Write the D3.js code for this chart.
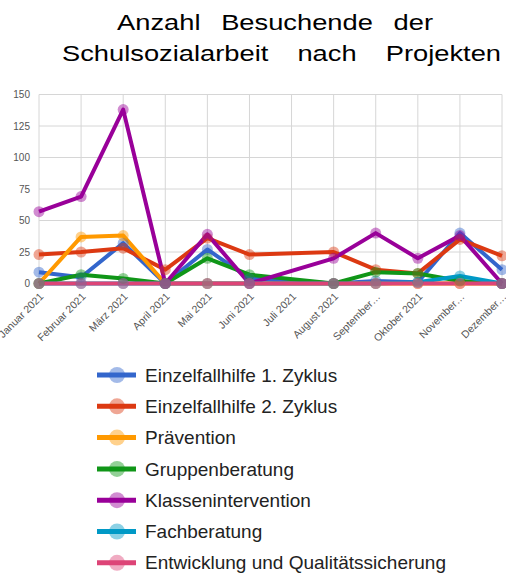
<!DOCTYPE html>
<html>
<head>
<meta charset="utf-8">
<script src="https://cdn.jsdelivr.net/npm/d3@7"></script>
<style>
  body { margin: 0; background: #fff; }
  svg { display: block; font-family: "Liberation Sans", Arial, sans-serif; }
</style>
</head>
<body>
<svg id="chart" width="506" height="574"></svg>
<script>
// Daten
const months = ["Januar 2021", "Februar 2021", "März 2021", "April 2021", "Mai 2021", "Juni 2021",
                "Juli 2021", "August 2021", "September 2021", "Oktober 2021", "November 2021", "Dezember 2021"];
const monthLabels = ["Januar 2021", "Februar 2021", "März 2021", "April 2021", "Mai 2021", "Juni 2021",
                     "Juli 2021", "August 2021", "September…", "Oktober 2021", "November…", "Dezember…"];
const seriesNames = ["Einzelfallhilfe 1. Zyklus", "Einzelfallhilfe 2. Zyklus", "Prävention", "Gruppenberatung",
                     "Klassenintervention", "Fachberatung", "Entwicklung und Qualitätssicherung"];
const colors = ["#3366cc", "#dc3912", "#ff9900", "#109618", "#990099", "#0099c6", "#dd4477"];
// Juli 2021 ohne Werte (null)
const einzel1 = [9, 5, 32, 0, 27, 4, null, 0, 2, 1, 40, 11];
const einzel2 = [23, 25, 28, 11, 36, 23, null, 25, 11, 8, 35, 22];
const praevention = [0, 37, 38, 0, 0, 0, null, 0, 0, 0, 0, 0];
const gruppe = [0, 7, 4, 0, 20, 7, null, 0, 9, 8, 2, 0];
const klasse = [57, 69, 138, 0, 39, 0, null, 20, 40, 20, 38, 0];
const fach = [0, 0, 0, 0, 0, 0, null, 0, 0, 1, 6, 0];
const entwicklung = [0, 0, 0, 0, 0, 0, null, 0, 0, 0, 0, 0];
const yTicks = [0, 25, 50, 75, 100, 125, 150];

const allSeries = [einzel1, einzel2, praevention, gruppe, klasse, fach, entwicklung];

const svg = d3.select("#chart");

// Titel (Blocksatz, breit gezogen wie im Original)
const titleLines = [
    { text: "Anzahl Besuchende der", x0: 117, x1: 433, y: 30 },
    { text: "Schulsozialarbeit nach Projekten", x0: 62, x1: 501, y: 61 }
];
const stretch = 1.27;
titleLines.forEach(l => {
    const g = svg.append("g")
        .attr("transform", `translate(${l.x0},${l.y}) scale(${stretch},1)`);
    const t = g.append("text")
        .attr("x", 0)
        .attr("y", 0)
        .attr("font-size", 21.5)
        .attr("fill", "#000")
        .text(l.text);
    const natural = t.node().getComputedTextLength();
    const gaps = l.text.split(" ").length - 1;
    t.attr("word-spacing", ((l.x1 - l.x0) / stretch - natural) / gaps);
});

const x = d3.scalePoint().domain(months).range([39, 502]);
const y = d3.scaleLinear().domain([0, 150]).range([283.5, 94.5]);

// Gitter
svg.append("g")
    .selectAll("line.h")
    .data(yTicks)
    .enter()
    .append("line")
    .attr("x1", 39).attr("x2", 502)
    .attr("y1", d => y(d)).attr("y2", d => y(d))
    .attr("stroke", "#d6d6d6");

svg.append("g")
    .selectAll("line.v")
    .data(months)
    .enter()
    .append("line")
    .attr("x1", d => x(d)).attr("x2", d => x(d))
    .attr("y1", y(150)).attr("y2", y(0))
    .attr("stroke", "#d6d6d6");

// Y-Achse
const yAxis = svg.append("g")
    .attr("transform", "translate(39,0)")
    .call(d3.axisLeft(y).tickValues(yTicks).tickSize(0).tickPadding(9));
yAxis.select(".domain").remove();
yAxis.selectAll("text").attr("font-size", 10).attr("fill", "#555")
    .attr("font-family", "'Liberation Sans', Arial, sans-serif");

// X-Achse
const xAxis = svg.append("g")
    .attr("transform", `translate(0,${y(0)})`)
    .call(d3.axisBottom(x).tickSize(0).tickFormat((d, i) => monthLabels[i]));
xAxis.select(".domain").remove();
xAxis.selectAll("text")
    .attr("font-size", 10.5)
    .attr("fill", "#555")
    .attr("font-family", "'Liberation Sans', Arial, sans-serif")
    .attr("text-anchor", "end")
    .attr("dy", "0.35em")
    .attr("transform", "translate(0,9) rotate(-45)");

// Linien
const line = d3.line()
    .x(d => x(d.m))
    .y(d => y(d.v));

allSeries.forEach((vals, s) => {
    const pts = vals.map((v, i) => ({ m: months[i], v: v })).filter(d => d.v !== null);
    svg.append("path")
        .datum(pts)
        .attr("d", line)
        .attr("fill", "none")
        .attr("stroke", colors[s])
        .attr("stroke-width", 4)
        .attr("stroke-linejoin", "round");
});

// Punkte
allSeries.forEach((vals, s) => {
    const pts = vals.map((v, i) => ({ m: months[i], v: v })).filter(d => d.v !== null);
    svg.append("g")
        .selectAll("circle")
        .data(pts)
        .enter()
        .append("circle")
        .attr("cx", d => x(d.m))
        .attr("cy", d => y(d.v))
        .attr("r", 5.5)
        .attr("fill", colors[s])
        .attr("fill-opacity", 0.45);
});

// Legende
const legend = svg.append("g")
    .selectAll("g")
    .data(seriesNames)
    .enter()
    .append("g")
    .attr("transform", (d, i) => `translate(0,${375 + i * 31.3})`);

legend.append("line")
    .attr("x1", 97).attr("x2", 136)
    .attr("y1", 0).attr("y2", 0)
    .attr("stroke", (d, i) => colors[i])
    .attr("stroke-width", 5);

legend.append("circle")
    .attr("cx", 117).attr("cy", 0).attr("r", 8)
    .attr("fill", (d, i) => colors[i])
    .attr("fill-opacity", 0.45);

legend.append("text")
    .attr("x", 145)
    .attr("y", 0)
    .attr("dy", "0.35em")
    .attr("font-size", 19)
    .attr("fill", "#222")
    .text(d => d);
</script>
</body>
</html>
